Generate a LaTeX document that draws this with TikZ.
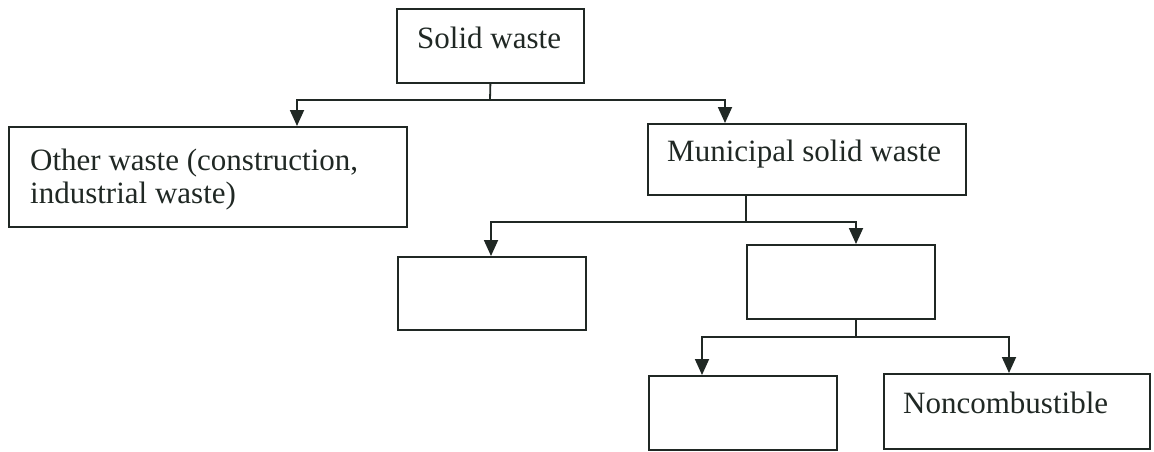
\documentclass[tikz,border=0pt]{standalone}
\usepackage{fontspec}
\setmainfont{Liberation Serif}
\usetikzlibrary{arrows.meta}
\definecolor{ink}{RGB}{32,40,36}
\tikzset{
  box/.style={draw=ink, line width=1.8pt, inner sep=0pt, anchor=north west},
  txt/.style={inner sep=0pt, text=ink, font=\fontsize{31}{33}\selectfont, align=left},
  conn/.style={draw=ink, line width=1.8pt},
  arr/.style={conn, -{Triangle[width=14pt,length=16pt]}}
}
\begin{document}
\begin{tikzpicture}[x=1pt,y=-1pt]
\useasboundingbox (0,0) rectangle (1154,451);
% boxes
\node[box, minimum width=187pt, minimum height=74pt] (sw) at (396,8) {};
\node[box, minimum width=398pt, minimum height=100pt] (ow) at (8,126) {};
\node[box, minimum width=318pt, minimum height=71pt] (ms) at (647,123) {};
\node[box, minimum width=188pt, minimum height=73pt] (e1) at (397,256) {};
\node[box, minimum width=188pt, minimum height=74pt] (e2) at (746,244) {};
\node[box, minimum width=188pt, minimum height=74pt] (e3) at (648,375) {};
\node[box, minimum width=266pt, minimum height=75pt] (nc) at (883,373) {};
% texts
\node[txt, anchor=base west] (swt) at (417,48) {Solid waste};
\node[txt, anchor=base west] (owt) at (30,203) {Other waste (construction,\\industrial waste)};
\node[txt, anchor=base west] (mst) at (667,161) {Municipal solid waste};
\node[txt, anchor=base west] (nct) at (903,413) {Noncombustible};
% junctions and arrow tips
\coordinate (j1) at (490,100);
\coordinate (t1) at (297,126);
\coordinate (t2) at (725,123);
\coordinate (j2) at (746,222);
\coordinate (t3) at (491,256);
\coordinate (t4) at (856,244);
\coordinate (j3) at (856,337);
\coordinate (t5) at (702,375);
\coordinate (t6) at (1009,373);
% connectors
\draw[conn] (sw.south) -- (j1);
\draw[arr] (j1) -| (t1);
\draw[arr] (j1) -| (t2);
\draw[conn] (ms.south -| j2) -- (j2);
\draw[arr] (j2) -| (t3);
\draw[arr] (j2) -| (t4);
\draw[conn] (e2.south -| j3) -- (j3);
\draw[arr] (j3) -| (t5);
\draw[arr] (j3) -| (t6);
\end{tikzpicture}
\end{document}
